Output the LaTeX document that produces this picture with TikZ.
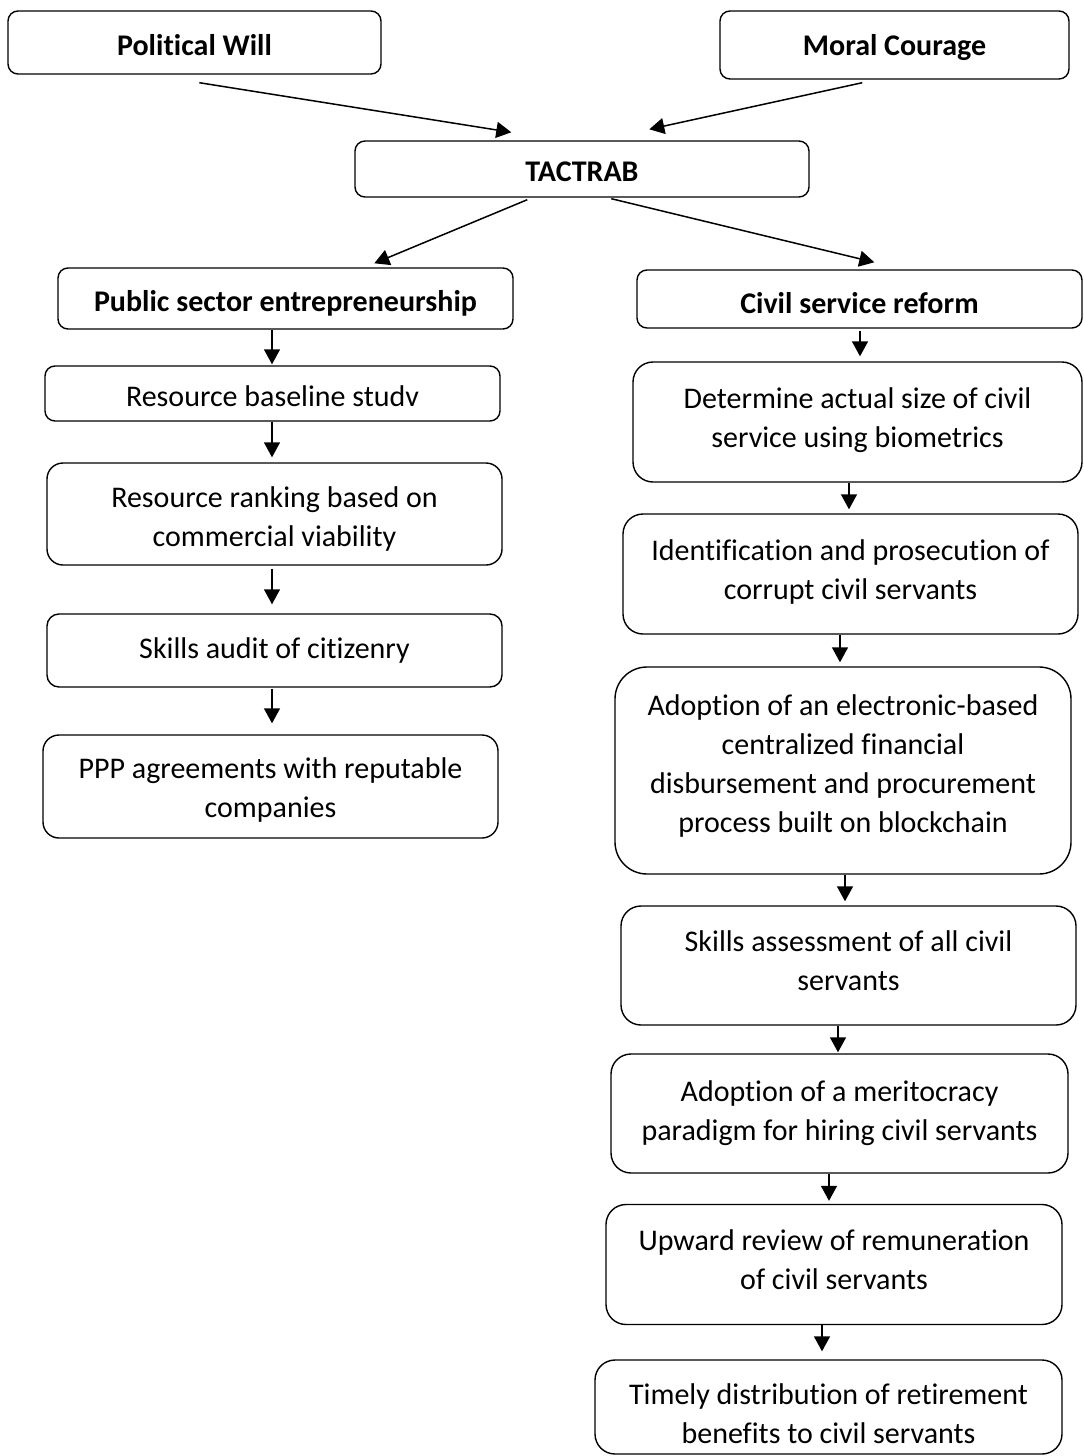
\documentclass[tikz,border=0pt]{standalone}
\usepackage{fontspec}
\setmainfont{Carlito}[Ligatures={NoCommon}]
\usetikzlibrary{arrows.meta,calc}
\newcommand{\sh}[2]{\raisebox{#1}[\height][\depth]{#2}}
\begin{document}
\begin{tikzpicture}[x=0.5pt,y=-0.5pt,
  box/.style={draw, line width=0.7pt, align=center, inner sep=0pt,
    font=\fontsize{15}{19.5}\selectfont},
  hd/.style={box, font=\fontsize{15}{19.5}\selectfont\bfseries},
  arr/.style={line width=0.75pt, -{Triangle[length=7.5pt,width=8pt]}}]
\useasboundingbox (0,0) rectangle (1083,1456);
% top
\node[hd, rounded corners=5pt, minimum width=186.5pt, minimum height=31.5pt] (pw) at (194.5,42.5) {\sh{-1.5pt}{Political Will}};
\node[hd, rounded corners=5pt, minimum width=174.5pt, minimum height=34pt] (mc) at (894.5,45) {\sh{-1.5pt}{Moral Courage}};
\node[hd, rounded corners=5pt, minimum width=227pt, minimum height=28pt] (tac) at (582,169) {\sh{-1.5pt}{TACTRAB}};
\node[hd, rounded corners=5pt, minimum width=227.5pt, minimum height=30.5pt] (pse) at (285.5,298.5) {\sh{-2.5pt}{Public sector entrepreneurship}};
\node[hd, rounded corners=5pt, minimum width=222.5pt, minimum height=29pt] (csr) at (859.5,299) {\sh{-2pt}{Civil service reform}};
% left column
\node[box, rounded corners=5pt, minimum width=227.5pt, minimum height=27.5pt] (rbs) at (272.5,393.5) {\sh{-1.5pt}{Resource baseline studv}};
\node[box, rounded corners=8pt, minimum width=227.5pt, minimum height=51pt] (rr) at (274.5,514) {\sh{-2.5pt}{Resource ranking based on}\\\sh{-2.5pt}{commercial viability}};
\node[box, rounded corners=6pt, minimum width=227.5pt, minimum height=36.5pt] (sa) at (274.5,650.5) {Skills audit of citizenry};
\node[box, rounded corners=8pt, minimum width=227.5pt, minimum height=51.5pt] (ppp) at (270.5,786.5) {\sh{-1.5pt}{PPP agreements with reputable}\\\sh{-1.5pt}{companies}};
% right column
\node[box, rounded corners=10pt, minimum width=224.5pt, minimum height=60pt] (det) at (857.5,422) {\sh{1pt}{Determine actual size of civil}\\\sh{1pt}{service using biometrics}};
\node[box, rounded corners=10pt, minimum width=227.5pt, minimum height=60pt] (idn) at (850.5,574) {\sh{1.25pt}{Identification and prosecution of}\\\sh{1.25pt}{corrupt civil servants}};
\node[box, rounded corners=16pt, minimum width=228pt, minimum height=103.5pt] (adp) at (843,770.5) {\sh{2.5pt}{Adoption of an electronic-based}\\\sh{2.5pt}{centralized financial}\\\sh{2.5pt}{disbursement and procurement}\\\sh{2.5pt}{process built on blockchain}};
\node[box, rounded corners=10pt, minimum width=227.5pt, minimum height=59.5pt] (ska) at (848.5,965.5) {\sh{2.5pt}{Skills assessment of all civil}\\\sh{2.5pt}{servants}};
\node[box, rounded corners=10pt, minimum width=228.5pt, minimum height=59.5pt] (mer) at (839.5,1113.5) {Adoption of a meritocracy\\paradigm for hiring civil servants};
\node[box, rounded corners=10pt, minimum width=228pt, minimum height=60pt] (upw) at (834,1264.5) {\sh{2.5pt}{Upward review of remuneration}\\\sh{2.5pt}{of civil servants}};
\node[box, rounded corners=10pt, minimum width=233.5pt, minimum height=47pt] (tim) at (828.5,1407) {\sh{-3.5pt}{Timely distribution of retirement}\\\sh{-3.5pt}{benefits to civil servants}};
% diagonal arrows
\draw[arr] ($(pw.south west)+(192,8)$) -- ($(tac.north west)+(157,-8)$);
\draw[arr] ($(mc.south west)+(143,3)$) -- ($(tac.north west)+(295,-11)$);
\draw[arr] ($(tac.south west)+(173,2)$) -- ($(pse.north west)+(317,-4)$);
\draw[arr] ($(tac.south west)+(257,1)$) -- ($(csr.north west)+(238,-7)$);
% left column arrows
\draw[arr, shorten >=0.5pt] (pse.south -| 272,0) -- (rbs.north -| 272,0);
\draw[arr, shorten >=2.5pt] (rbs.south -| 272,0) -- (rr.north -| 272,0);
\draw[arr, shorten <=1.5pt, shorten >=4.5pt] (rr.south -| 272,0) -- (sa.north -| 272,0);
\draw[arr, shorten <=0.5pt, shorten >=5.5pt] (sa.south -| 272,0) -- (ppp.north -| 272,0);
% right column arrows
\draw[arr, shorten <=1pt, shorten >=2.5pt] (csr.south -| 860,0) -- (det.north -| 860,0);
\draw[arr, shorten >=2pt] (det.south -| 849,0) -- (idn.north -| 849,0);
\draw[arr, shorten >=2pt] (idn.south -| 840,0) -- (adp.north -| 840,0);
\draw[arr, shorten >=2pt] (adp.south -| 845,0) -- (ska.north -| 845,0);
\draw[arr, shorten >=0.5pt] (ska.south -| 838,0) -- (mer.north -| 838,0);
\draw[arr, shorten >=1.5pt] (mer.south -| 829,0) -- (upw.north -| 829,0);
\draw[arr, shorten >=4pt] (upw.south -| 822,0) -- (tim.north -| 822,0);
\end{tikzpicture}
\end{document}
